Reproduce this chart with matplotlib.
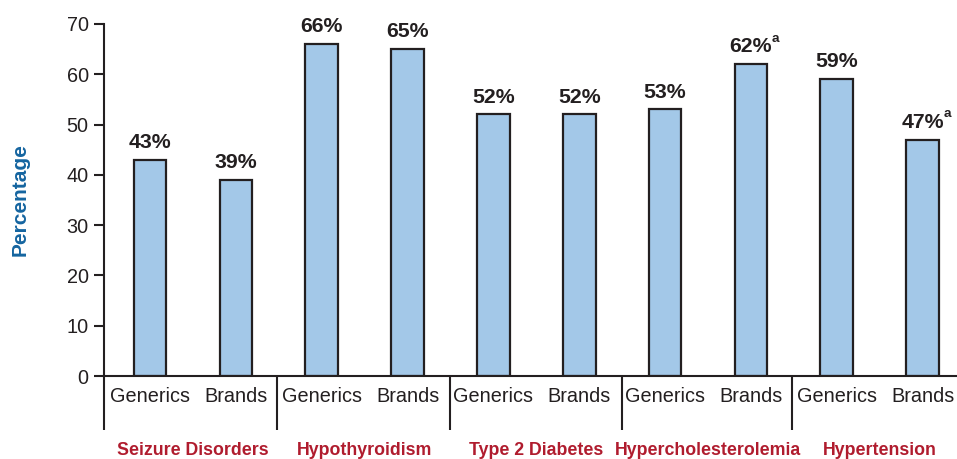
import matplotlib.pyplot as plt

# data
conditions = ['Seizure Disorders', 'Hypothyroidism', 'Type 2 Diabetes',
              'Hypercholesterolemia', 'Hypertension']
drug_types = ['Generics', 'Brands']
generics = [43, 66, 52, 53, 59]
brands = [39, 65, 52, 62, 47]
footnote_a = {(3, 1), (4, 1)}  # (condition, drug type) marked with superscript a

plt.rcParams['font.family'] = ['Liberation Sans', 'DejaVu Sans']

bar_fill = '#a3c8e8'
ink = '#231f20'
red = '#b01c2e'
blue = '#1565a0'

fig = plt.figure(figsize=(9.57, 4.59), dpi=100)
ax = fig.add_axes([0.1087, 0.1808, 0.8913, 0.767])

xs, vals, keys = [], [], []
for i in range(len(conditions)):
    for j, v in enumerate([generics[i], brands[i]]):
        xs.append(2 * i + j)
        vals.append(v)
        keys.append((i, j))

ax.bar(xs, vals, width=0.38, color=bar_fill, edgecolor=ink, linewidth=1.6, zorder=2)

for x, v, k in zip(xs, vals, keys):
    ax.annotate(f'{v}%', (x, v), xytext=(0, 8.6), textcoords='offset points',
                ha='center', va='baseline', fontsize=15.3, fontweight='bold', color=ink)
    if k in footnote_a:
        ax.annotate('a', (x, v), xytext=(15.2, 16), textcoords='offset points',
                    ha='left', va='baseline', fontsize=9.7, fontweight='bold', color=ink)

ax.set_xlim(-0.535, 9.4)
ax.set_ylim(0, 70)
ax.set_yticks(range(0, 71, 10))
ax.set_xticks([])
ax.tick_params(axis='y', direction='out', length=7, width=1.5, color=ink,
               labelsize=14.3, labelcolor=ink, pad=4)

for side in ['top', 'right']:
    ax.spines[side].set_visible(False)
for side in ['left', 'bottom']:
    ax.spines[side].set_linewidth(1.5)
    ax.spines[side].set_color(ink)
    ax.spines[side].set_capstyle('projecting')

# group dividers below the axis, including extension of the y axis
trans = ax.get_xaxis_transform()
for d in [-0.535, 1.48, 3.49, 5.5, 7.48]:
    ax.plot([d, d], [0, -0.153], transform=trans, color=ink, lw=1.5,
            clip_on=False, solid_capstyle='butt')

for x, k in zip(xs, keys):
    ax.text(x, -0.057, drug_types[k[1]], transform=trans, ha='center', va='center',
            fontsize=14.3, color=ink)

for i, name in enumerate(conditions):
    ax.text(2 * i + 0.5, -0.2244, name, transform=trans, ha='center', va='baseline',
            fontsize=12.8, fontweight='bold', color=red)

fig.text(0.021, 0.566, 'Percentage', rotation=90, ha='center', va='center',
         fontsize=15, fontweight='bold', color=blue)

fig.savefig('out.png', dpi=100)
